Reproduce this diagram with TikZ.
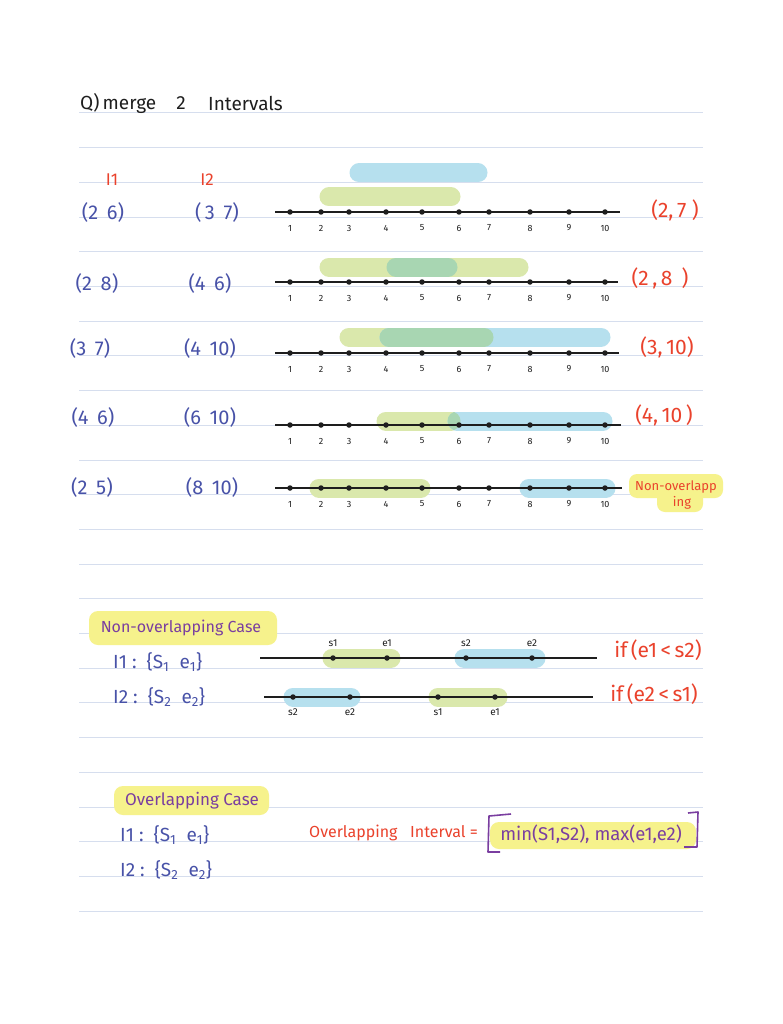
\documentclass[tikz,border=0pt]{standalone}
\usepackage{fontspec}
\setmainfont{Fira Sans}
\newcommand\hwsize[1]{\fontsize{#1}{#1}\selectfont}
\definecolor{rulec}{RGB}{214,222,238}
\definecolor{ink}{RGB}{30,30,30}
\definecolor{pen}{RGB}{72,82,168}
\definecolor{penred}{RGB}{234,66,44}
\definecolor{penpurple}{RGB}{122,62,160}
\definecolor{hlyellow}{RGB}{246,242,140}
\definecolor{hlgreen}{RGB}{218,232,172}
\definecolor{hlblue}{RGB}{182,224,238}
\definecolor{hlmix}{RGB}{168,214,178}
\tikzset{
  rulel/.style={draw=rulec, line width=1pt},
  axisl/.style={draw=ink, line width=1.8pt},
  tickdot/.style={circle, fill=ink, inner sep=0pt, minimum size=5.5pt},
  numl/.style={font=\hwsize{9}, text=ink, inner sep=0pt},
  gband/.style={draw=hlgreen, line width=19pt, line cap=round},
  bband/.style={draw=hlblue, line width=19pt, line cap=round},
  mband/.style={draw=hlmix, line width=19pt, line cap=round},
  ival/.style={font=\hwsize{20}, text=pen, inner sep=0pt},
  lbl/.style={font=\hwsize{17}, text=penred, inner sep=0pt},
  res/.style={font=\hwsize{21}, text=penred, inner sep=0pt},
  setl/.style={font=\hwsize{19}, text=pen, inner sep=0pt, anchor=west},
  sel/.style={font=\hwsize{10}, text=ink, inner sep=0pt},
  cond/.style={font=\hwsize{21}, text=penred, inner sep=0pt},
  casebox/.style={fill=hlyellow, rounded corners=9pt},
  casetxt/.style={font=\hwsize{16}, text=penpurple, inner sep=0pt},
}
\begin{document}
\begin{tikzpicture}[x=1pt,y=-1pt]
\useasboundingbox (0,0) rectangle (782,1024);
\fill[white] (0,0) rectangle (782,1024);
% ruled lines
\foreach \i in {0,...,23}{
  \draw[rulel] (79,113+34.7*\i) -- (703,113+34.7*\i);
}
% title
\node[font=\hwsize{19}, text=ink, anchor=west, inner sep=0pt] (tq) at (80,103) {Q)\,merge};
\node[font=\hwsize{19}, text=ink, inner sep=0pt] (t2) at (181,103) {2};
\node[font=\hwsize{19}, text=ink, anchor=west, inner sep=0pt] (ti) at (208,103) {Intervals};
% column heads
\node[lbl] (h1) at (112,180) {I1};
\node[lbl] (h2) at (207,180) {I2};
% highlights
\draw[bband] (359,173) -- (478,173);
\draw[gband] (329,197) -- (451,197);
\draw[gband] (329,267) -- (519,267);
\draw[mband] (396,267) -- (448,267);
\draw[gband] (349,337) -- (484,337);
\draw[bband] (389,337) -- (601,337);
\draw[mband] (389,337) -- (484,337);
\draw[gband] (386,421) -- (451,421);
\draw[bband] (457,421) -- (603,421);
\begin{scope}
  \clip (451,421) circle (9.5);
  \fill[hlmix] (457,421) circle (9.5);
\end{scope}
\draw[gband] (319,488) -- (421,488);
\draw[bband] (529,488) -- (606,488);
% axes with ticks
\foreach \r/\y/\xe in {1/212/620,2/282/618,3/353/619,4/425/621,5/488/622}{
  \coordinate (a\r s) at (275,\y);
  \coordinate (a\r e) at (\xe,\y);
  \draw[axisl] (a\r s) -- (a\r e);
  \foreach \k/\x in {1/290,2/321,3/349,4/386,5/422,6/459,7/489,8/530,9/569,10/605}{
    \node[tickdot] (t\r-\k) at (\x,\y) {};
    \node[numl] (n\r-\k) at (\x,\y+16) {\k};
  }
}
% interval labels
\node[ival] (r1a) at (103,212) {(2\ \,6)};
\node[ival] (r1b) at (217,212) {(\,3\ \,7)};
\node[ival] (r2a) at (97,283) {(2\ \,8)};
\node[ival] (r2b) at (210,283) {(4\ \,6)};
\node[ival] (r3a) at (90,348) {(3\ \,7)};
\node[ival] (r3b) at (210,348) {(4\ \,10)};
\node[ival] (r4a) at (93,417) {(4\ \,6)};
\node[ival] (r4b) at (210,417) {(6\ \,10)};
\node[ival] (r5a) at (92,487) {(2\ \,5)};
\node[ival] (r5b) at (212,487) {(8\ \,10)};
% results
\node[res] (o1) at (675,210) {(2,\,7\ )};
\node[res] (o2) at (660,278) {(2\,,\,8\ \,)};
\node[res] (o3) at (667,347) {(3,\,10)};
\node[res] (o4) at (664,415) {(4,\,10\,)};
\fill[hlyellow, rounded corners=8pt] (629,474) rectangle (723,498);
\fill[hlyellow, rounded corners=8pt] (657,488) rectangle (703,512);
\node[font=\hwsize{13}, text=penred, inner sep=0pt] (o5a) at (676,487) {Non-overlapp};
\node[font=\hwsize{13}, text=penred, inner sep=0pt] (o5b) at (682,503) {ing};
% non-overlapping case
\fill[casebox] (89,611) rectangle (277,645);
\node[casetxt] (nc) at (181,628) {Non-overlapping Case};
\node[setl] (ns1) at (113,662) {I1 :\ \ \{S\textsubscript{1}\ \ e\textsubscript{1}\}};
\node[setl] (ns2) at (113,697) {I2 :\ \ \{S\textsubscript{2}\ \ e\textsubscript{2}\}};
\draw[gband] (332,658) -- (391,658);
\draw[bband] (464,658) -- (536,658);
\draw[bband] (293,697) -- (351,697);
\draw[gband] (438,697) -- (498,697);
\coordinate (l1s) at (260,658);
\coordinate (l1e) at (597,658);
\coordinate (l2s) at (264,697);
\coordinate (l2e) at (593,697);
\draw[axisl] (l1s) -- (l1e);
\draw[axisl] (l2s) -- (l2e);
\foreach \n/\x/\t in {a/333/s1,b/387/e1,c/466/s2,d/532/e2}{
  \node[tickdot] (p1\n) at (\x,658) {};
  \node[sel] (q1\n) at (\x,643) {\t};
}
\foreach \n/\x/\t in {a/293/s2,b/350/e2,c/438/s1,d/495/e1}{
  \node[tickdot] (p2\n) at (\x,697) {};
  \node[sel] (q2\n) at (\x,712) {\t};
}
\node[cond] (c1) at (658,650) {if\,(e1\,<\,s2)};
\node[cond] (c2) at (654,694) {if\,(e2\,<\,s1)};
% overlapping case
\fill[casebox] (114,786) rectangle (269,815);
\node[casetxt, font=\hwsize{17}] (oc) at (192,801) {Overlapping Case};
\node[setl] (os1) at (120,835) {I1 :\ \ \{S\textsubscript{1}\ \ e\textsubscript{1}\}};
\node[setl] (os2) at (120,870) {I2 :\ \ \{S\textsubscript{2}\ \ e\textsubscript{2}\}};
\node[font=\hwsize{16}, text=penred, inner sep=0pt, anchor=west] (oi) at (309,833) {Overlapping\ \ \ Interval =};
\fill[hlyellow, rounded corners=9pt] (490,822) rectangle (696,849);
\node[font=\hwsize{18.5}, text=penpurple, inner sep=0pt] (mm) at (591,834) {min(S1,S2), max(e1,e2)};
\draw[penpurple, line width=1.6pt, line join=round] (511,814) -- (489,816) -- (488,852) -- (500,852);
\draw[penpurple, line width=1.6pt, line join=round] (688,813) -- (698,812) -- (697,847) -- (684,847);
\end{tikzpicture}
\end{document}
